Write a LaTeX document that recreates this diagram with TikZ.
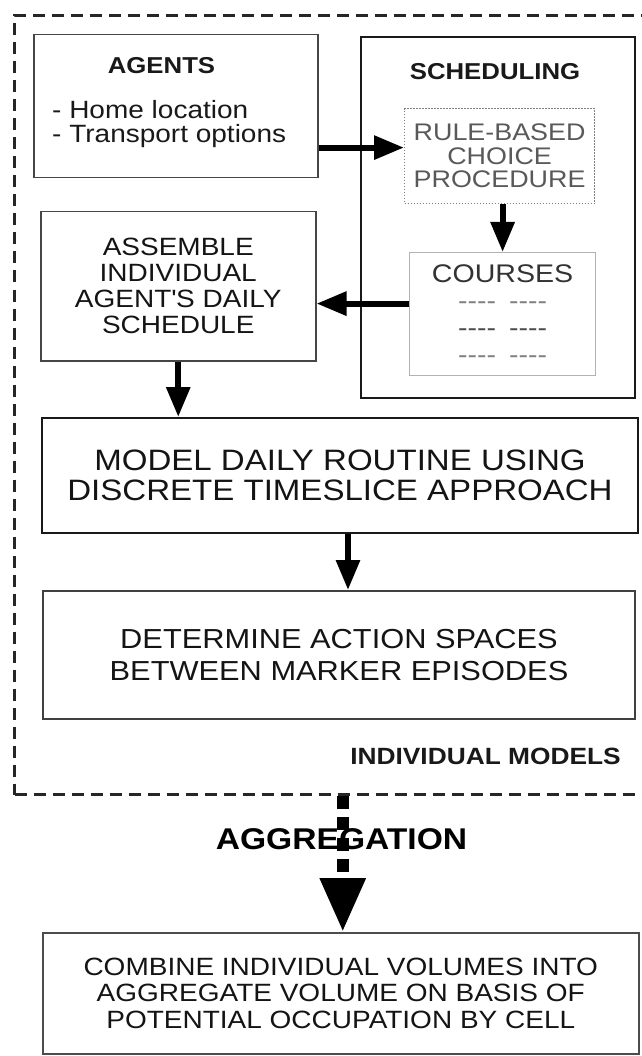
\documentclass[tikz,border=0pt]{standalone}
\usepackage{fontspec}
\setmainfont{Liberation Sans}[FakeStretch=1.12]
\usetikzlibrary{arrows.meta, positioning}

\newcommand{\dashrow}{-{}-{}-{}-\hspace{13pt}-{}-{}-{}-}

\begin{document}
\begin{tikzpicture}[
		x=1pt, y=-1pt,
		block/.style= {
				draw=gray!55!black,
				line width=1.5pt,
				rectangle,
				inner sep=0pt,
				align=center,
				anchor=north west,
				text=black!92
			},
		heavyblock/.style= {
				block,
				draw=black!90,
				line width=2.2pt
			},
		dotblock/.style= {
				block,
				draw=gray,
				line width=1.2pt,
				dash pattern=on 1.5pt off 1.5pt
			},
		heading/.style= {
				font=\fontsize{23}{24}\selectfont\bfseries,
				text=black!90,
				inner sep=0pt
			},
		listitem/.style= {
				font=\fontsize{25}{24}\selectfont,
				text=black!90,
				inner sep=0pt,
				anchor=base west
			},
		myarrow/.style= {
				line width=6pt,
				-{Triangle[length=30pt, width=23pt]}
			},
		aggarrow/.style= {
				line width=12pt,
				dash pattern=on 13pt off 8pt,
				-{Triangle[length=54pt, width=43pt]}
			}
	]

	\useasboundingbox (0,0) rectangle (641,1056);

	% individual models frame, runs off the right edge
	\node[draw=black!85, line width=3pt, dash pattern=on 12pt off 7pt, inner sep=0pt, anchor=north west, minimum width=680pt, minimum height=779pt] (indiv) at (13,14) {};
	\node[heading, anchor=base east, font=\fontsize{23.5}{24}\selectfont\bfseries] (indivlabel) at (621,764) {INDIVIDUAL MODELS};

	\node[block, minimum width=284pt, minimum height=143pt] (agents) at (33,34) {};
	\node[heading, anchor=base] (agentstitle) at (161.5,74) {AGENTS};
	\node[listitem] (home) at (52,119) {- Home location};
	\node[listitem] (transport) at (52,143) {- Transport options};

	\node[heavyblock, minimum width=274pt, minimum height=361pt] (sched) at (360,36) {};
	\node[heading, anchor=base] (schedtitle) at (495,80) {SCHEDULING};
	\node[dotblock, minimum width=190pt, minimum height=95pt, font=\fontsize{24}{23.5}\selectfont, text=black!65] (rule) at (404,108) {RULE-BASED\\CHOICE\\PROCEDURE};
	\node[block, draw=gray!60, line width=1.2pt, minimum width=186pt, minimum height=123pt, font=\fontsize{25.5}{26.7}\selectfont, text=black!80] (courses) at (409,252) {COURSES\\\textcolor{gray}{\dashrow}\\\textcolor{black!70}{\dashrow}\\\textcolor{gray}{\dashrow}};

	\node[block, minimum width=275pt, minimum height=149pt, font=\fontsize{25}{26}\selectfont] (assemble) at (40,211) {ASSEMBLE\\INDIVIDUAL\\AGENT\textquotesingle S DAILY\\SCHEDULE};

	\node[heavyblock, line width=2pt, minimum width=596pt, minimum height=115pt, font=\fontsize{29.5}{30}\selectfont] (model) at (41,417) {MODEL DAILY ROUTINE USING\\DISCRETE TIMESLICE APPROACH};
	\node[heavyblock, draw=black!75, line width=2pt, minimum width=592pt, minimum height=128pt, font=\fontsize{27.5}{32}\selectfont] (determine) at (42,590) {DETERMINE ACTION SPACES\\BETWEEN MARKER EPISODES};

	\node[block, draw=gray!60!black, minimum width=596pt, minimum height=121pt, font=\fontsize{25}{26.5}\selectfont] (combine) at (42,932) {COMBINE INDIVIDUAL VOLUMES INTO\\AGGREGATE VOLUME ON BASIS OF\\POTENTIAL OCCUPATION BY CELL};

	\draw[myarrow] ([yshift=8.5pt]rule.west -| agents.east) -- ([yshift=8.5pt]rule.west);
	\draw[myarrow] (rule.south -| courses.north) -- (courses.north);
	\draw[myarrow] ([yshift=10.5pt]courses.west) -- ([yshift=10.5pt]courses.west -| assemble.east);
	\draw[myarrow] (assemble.south) -- (assemble.south |- model.north);
	\draw[myarrow] ([xshift=8pt]model.south) -- ([xshift=8pt]model.south |- determine.north);

	\draw[aggarrow] ([xshift=2pt]combine.north |- indiv.south) -- ([xshift=2pt]combine.north);
	\node[anchor=base, inner sep=0pt, font=\fontsize{30}{30}\selectfont\bfseries] (agglabel) at (341.5,849) {AGGREGATION};
\end{tikzpicture}
\end{document}
